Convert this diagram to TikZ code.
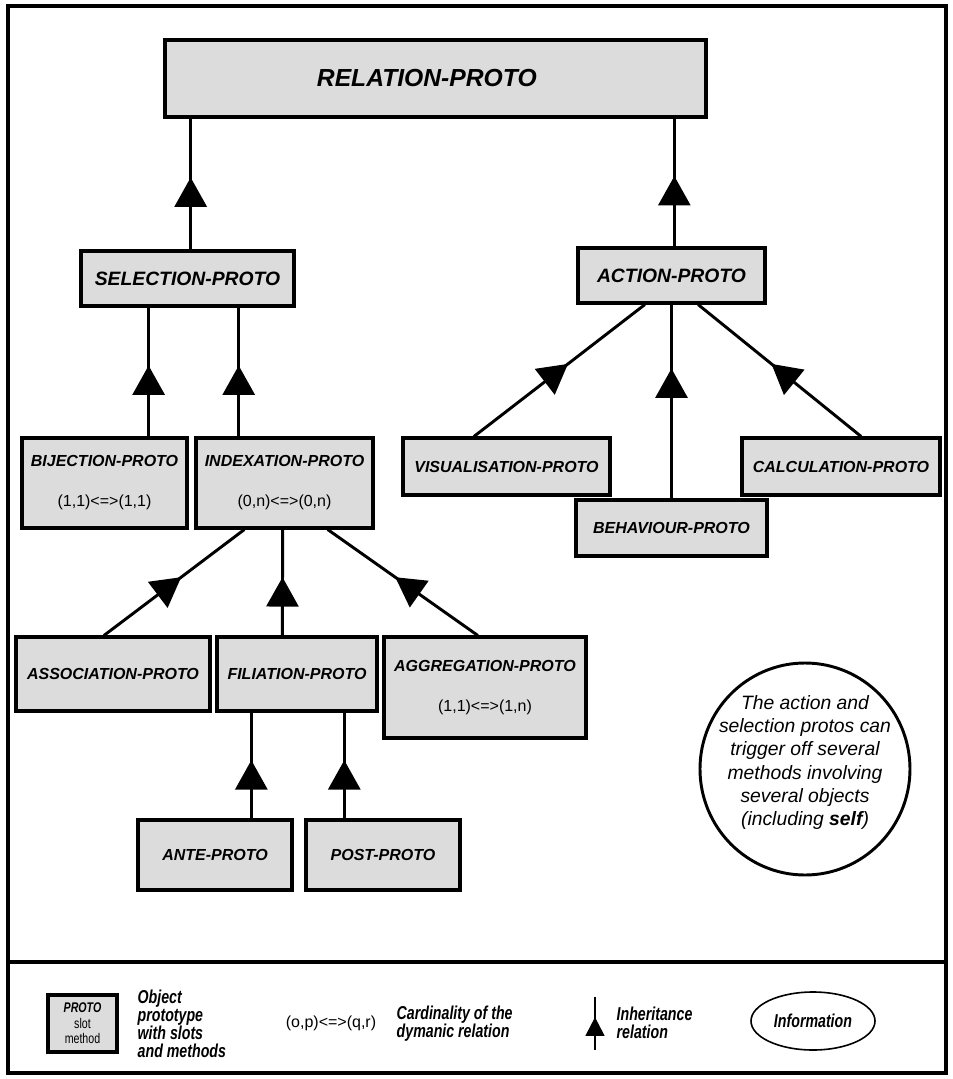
\documentclass[tikz,border=0pt]{standalone}
\usepackage{fontspec}
\setmainfont{Liberation Sans}
\newfontfamily\narrowfont[FakeStretch=0.76]{Liberation Sans}
\usepackage{tikz}
\usetikzlibrary{calc,positioning,shapes.geometric,arrows.meta,decorations.markings}
\definecolor{protogray}{RGB}{220,220,220}
\newcommand{\cardtext}[1]{{\normalfont\fontsize{12}{14}\selectfont #1}}
\tikzset{
    proto/.style={
        draw,line width=2.3pt,
        fill=protogray,inner sep=0pt,
        align=center,
        font=\fontsize{12}{14}\selectfont\bfseries\itshape
    },
    big proto/.style={
        proto,font=\fontsize{14.5}{16}\selectfont\bfseries\itshape
    },
    inherit/.style={
        line width=2.2pt,postaction={decorate},
        decoration={markings,
            mark=at position #1 with {\arrow{Triangle[length=22pt,width=24pt]}}}
    },
    inherit/.default=.55,
    legend text/.style={
        anchor=west,align=left,
        font=\narrowfont\fontsize{14}{13.5}\selectfont\bfseries\itshape
    }
}

\begin{document}
\begin{tikzpicture}[x=0.75pt,y=-0.75pt]
\useasboundingbox (0,0) rectangle (953,1079);
\draw[line width=3.5pt] (8,6) rectangle (946,1073);
\draw[line width=3.5pt] (8,962) -- (946,962);

% prototypes
\node[proto,minimum width=405.75pt,minimum height=57.75pt,font=\fontsize{18.5}{20}\selectfont\bfseries\itshape] (rel) at (435.5,78.5) {RELATION-PROTO\hspace*{13pt}};
\node[big proto,minimum width=159.75pt,minimum height=41.25pt] (sel) at (187.5,278.5) {SELECTION-PROTO};
\node[big proto,minimum width=140.25pt,minimum height=41.25pt] (act) at (671.5,275.5) {ACTION-PROTO};
\node[proto,minimum width=123.75pt,minimum height=67.5pt] (bij) at (104.5,483) {BIJECTION-PROTO\\[16pt]\cardtext{(1,1)<=>(1,1)}};
\node[proto,minimum width=132.75pt,minimum height=67.5pt] (idx) at (284.5,483) {INDEXATION-PROTO\\[16pt]\cardtext{(0,n)<=>(0,n)}};
\node[proto,minimum width=155.25pt,minimum height=42.75pt] (vis) at (506.5,466.5) {VISUALISATION-PROTO};
\node[proto,minimum width=148.5pt,minimum height=42.75pt] (calc) at (841,466.5) {CALCULATION-PROTO};
\node[proto,minimum width=143.25pt,minimum height=42pt] (beh) at (671.5,528) {BEHAVIOUR-PROTO};
\node[proto,minimum width=145.5pt,minimum height=55.5pt] (asso) at (113,674) {ASSOCIATION-PROTO};
\node[proto,minimum width=120pt,minimum height=55.5pt] (fil) at (297,674) {FILIATION-PROTO};
\node[proto,minimum width=151.5pt,minimum height=75.75pt] (aggr) at (485,687.5) {AGGREGATION-PROTO\\[16pt]\cardtext{(1,1)<=>(1,n)}};
\node[proto,minimum width=115.5pt,minimum height=52.5pt] (ante) at (215,855) {ANTE-PROTO};
\node[proto,minimum width=115.5pt,minimum height=52.5pt] (post) at (383,855) {POST-PROTO};

% information
\node[ellipse,draw,line width=2.2pt,minimum width=157.5pt,minimum height=159pt] (note) at (805,769) {};
\node[align=center,font=\fontsize{14.5}{17.5}\selectfont\itshape] (notetext) at ([yshift=5pt]note.center)
      {The action and\\selection protos can\\trigger off several\\methods involving\\several objects\\(including \textbf{self})};

% inheritance
\coordinate (r1) at ($(rel.south west)!.05!(rel.south east)$);
\coordinate (r2) at ($(rel.south west)!.939!(rel.south east)$);
\coordinate (s1) at ($(sel.south west)!.32!(sel.south east)$);
\coordinate (s2) at ($(sel.south west)!.737!(sel.south east)$);
\coordinate (f1) at ($(fil.south west)!.22!(fil.south east)$);
\coordinate (f2) at ($(fil.south west)!.79!(fil.south east)$);
\draw[inherit] (sel.north -| r1) -- (r1);
\draw[inherit] (act.north -| r2) -- (r2);
\draw[inherit] (bij.north -| s1) -- (s1);
\draw[inherit] (idx.north -| s2) -- (s2);
\draw[inherit] ($(vis.north west)!.345!(vis.north east)$) -- ($(act.south west)!.36!(act.south east)$);
\draw[inherit=.67] (beh.north) -- (beh.north |- act.south);
\draw[inherit] ($(calc.north west)!.6!(calc.north east)$) -- ($(act.south west)!.64!(act.south east)$);
\draw[inherit] ($(asso.north west)!.454!(asso.north east)$) -- ($(idx.south west)!.277!(idx.south east)$);
\draw[inherit] ($(fil.north west)!.41!(fil.north east)$) -- ($(idx.south west)!.49!(idx.south east)$);
\draw[inherit] ($(aggr.north west)!.465!(aggr.north east)$) -- ($(idx.south west)!.74!(idx.south east)$);
\draw[inherit] (ante.north -| f1) -- (f1);
\draw[inherit] (post.north -| f2) -- (f2);

% legend
\node[proto,minimum width=51.75pt,minimum height=42.75pt,font=\narrowfont\fontsize{10.5}{11.5}\selectfont] (keybox) at (82.5,1023.5)
    {\bfseries\itshape PROTO\\slot\\method};
\node[legend text] (keyproto) at (133,1024) {Object\\prototype\\with slots\\and methods};
\node[font=\fontsize{12}{14}\selectfont] (keycard) at (331,1023) {(o,p)<=>(q,r)};
\node[legend text] (keycardtxt) at (392,1024) {Cardinality of the\\dymanic relation};
\coordinate (inhbot) at (595,1050);
\coordinate (inhtop) at (595,997);
\draw[line width=1.8pt,postaction={decorate},
      decoration={markings,mark=at position .62 with {\arrow{Triangle[length=14pt,width=14pt]}}}] (inhbot) -- (inhtop);
\node[legend text] (keyinh) at (612,1023) {Inheritance\\relation};
\node[ellipse,draw,line width=1.2pt,minimum width=93pt,minimum height=43.5pt,inner sep=0pt,
      font=\narrowfont\fontsize{14}{14}\selectfont\bfseries\itshape] (keyinfo) at (813,1021) {Information};
\end{tikzpicture}
\end{document}
